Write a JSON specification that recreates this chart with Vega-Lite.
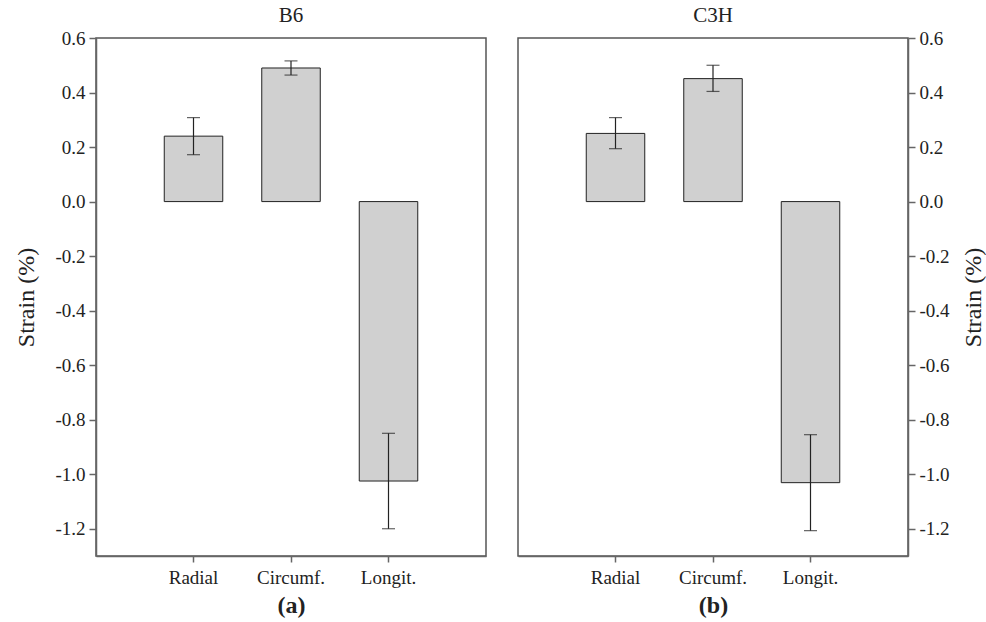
{
  "$schema": "https://vega.github.io/schema/vega-lite/v6.json",
  "padding": {"left": 14, "top": 4, "right": 1, "bottom": 2},
  "background": "white",
  "config": {
    "font": "Liberation Serif",
    "view": {"stroke": "#555", "strokeWidth": 1.5},
    "axis": {"labelFont": "Liberation Serif", "titleFont": "Liberation Serif", "labelColor": "#222", "titleColor": "#222", "domainColor": "#666", "tickColor": "#666", "domainWidth": 1.5, "tickWidth": 1.5, "grid": false},
    "title": {"font": "Liberation Serif", "fontSize": 21, "fontWeight": "normal", "color": "#222", "offset": 3}
  },
  "data": {"values": [
    {"strain": "B6", "direction": "Radial", "mean": 0.24, "lo": 0.172, "hi": 0.308},
    {"strain": "B6", "direction": "Circumf.", "mean": 0.49, "lo": 0.464, "hi": 0.516},
    {"strain": "B6", "direction": "Longit.", "mean": -1.025, "lo": -1.2, "hi": -0.85},
    {"strain": "C3H", "direction": "Radial", "mean": 0.25, "lo": 0.194, "hi": 0.308},
    {"strain": "C3H", "direction": "Circumf.", "mean": 0.451, "lo": 0.404, "hi": 0.5},
    {"strain": "C3H", "direction": "Longit.", "mean": -1.031, "lo": -1.207, "hi": -0.855}
  ]},
  "spacing": 30,
  "hconcat": [
    {
      "title": "B6",
      "width": 390,
      "height": 518,
      "transform": [{"filter": "datum.strain === 'B6'"}],
      "encoding": {
        "x": {"field": "direction", "type": "nominal", "sort": ["Radial", "Circumf.", "Longit."],
          "scale": {"paddingInner": 0.4, "paddingOuter": 0.7},
          "axis": {"title": "(a)", "titleFontSize": 24, "titleFontWeight": "bold", "titlePadding": 6, "labelAngle": 0, "labelFontSize": 19, "labelPadding": 6, "tickSize": 6}}
      },
      "layer": [
        {"mark": {"type": "bar", "fill": "#d0d0d0", "stroke": "#222", "strokeWidth": 1},
         "encoding": {"y": {"field": "mean", "type": "quantitative", "scale": {"domain": [-1.3, 0.6], "nice": false, "zero": false},
           "axis": {"title": "Strain (%)", "titleFontSize": 24, "titleFontWeight": "normal", "titlePadding": 16, "values": [0.6, 0.4, 0.2, 0, -0.2, -0.4, -0.6, -0.8, -1.0, -1.2], "labelExpr": "replace(format(datum.value, '.1f'), '\u2212', '-')", "labelFontSize": 19, "tickSize": 7, "labelPadding": 4}}}},
        {"mark": {"type": "rule", "color": "#222", "strokeWidth": 1}, "encoding": {"y": {"datum": 0}}},
        {"mark": {"type": "rule", "color": "#222", "strokeWidth": 1.2},
         "encoding": {"y": {"field": "lo", "type": "quantitative"}, "y2": {"field": "hi"}}},
        {"mark": {"type": "tick", "color": "#222", "orient": "horizontal", "size": 13, "thickness": 1.2},
         "encoding": {"y": {"field": "lo", "type": "quantitative"}}},
        {"mark": {"type": "tick", "color": "#222", "orient": "horizontal", "size": 13, "thickness": 1.2},
         "encoding": {"y": {"field": "hi", "type": "quantitative"}}}
      ]
    },
    {
      "title": "C3H",
      "width": 390,
      "height": 518,
      "transform": [{"filter": "datum.strain === 'C3H'"}],
      "encoding": {
        "x": {"field": "direction", "type": "nominal", "sort": ["Radial", "Circumf.", "Longit."],
          "scale": {"paddingInner": 0.4, "paddingOuter": 0.7},
          "axis": {"title": "(b)", "titleFontSize": 24, "titleFontWeight": "bold", "titlePadding": 6, "labelAngle": 0, "labelFontSize": 19, "labelPadding": 6, "tickSize": 6}}
      },
      "layer": [
        {"mark": {"type": "bar", "fill": "#d0d0d0", "stroke": "#222", "strokeWidth": 1},
         "encoding": {"y": {"field": "mean", "type": "quantitative", "scale": {"domain": [-1.3, 0.6], "nice": false, "zero": false},
           "axis": {"orient": "right", "title": "Strain (%)", "titleAngle": 270, "titleBaseline": "top", "titleFontSize": 24, "titleFontWeight": "normal", "titlePadding": 12, "values": [0.6, 0.4, 0.2, 0, -0.2, -0.4, -0.6, -0.8, -1.0, -1.2], "labelExpr": "replace(format(datum.value, '.1f'), '\u2212', '-')", "labelFontSize": 19, "tickSize": 7, "labelPadding": 4}}}},
        {"mark": {"type": "rule", "color": "#222", "strokeWidth": 1}, "encoding": {"y": {"datum": 0}}},
        {"mark": {"type": "rule", "color": "#222", "strokeWidth": 1.2},
         "encoding": {"y": {"field": "lo", "type": "quantitative"}, "y2": {"field": "hi"}}},
        {"mark": {"type": "tick", "color": "#222", "orient": "horizontal", "size": 13, "thickness": 1.2},
         "encoding": {"y": {"field": "lo", "type": "quantitative"}}},
        {"mark": {"type": "tick", "color": "#222", "orient": "horizontal", "size": 13, "thickness": 1.2},
         "encoding": {"y": {"field": "hi", "type": "quantitative"}}}
      ]
    }
  ]
}
